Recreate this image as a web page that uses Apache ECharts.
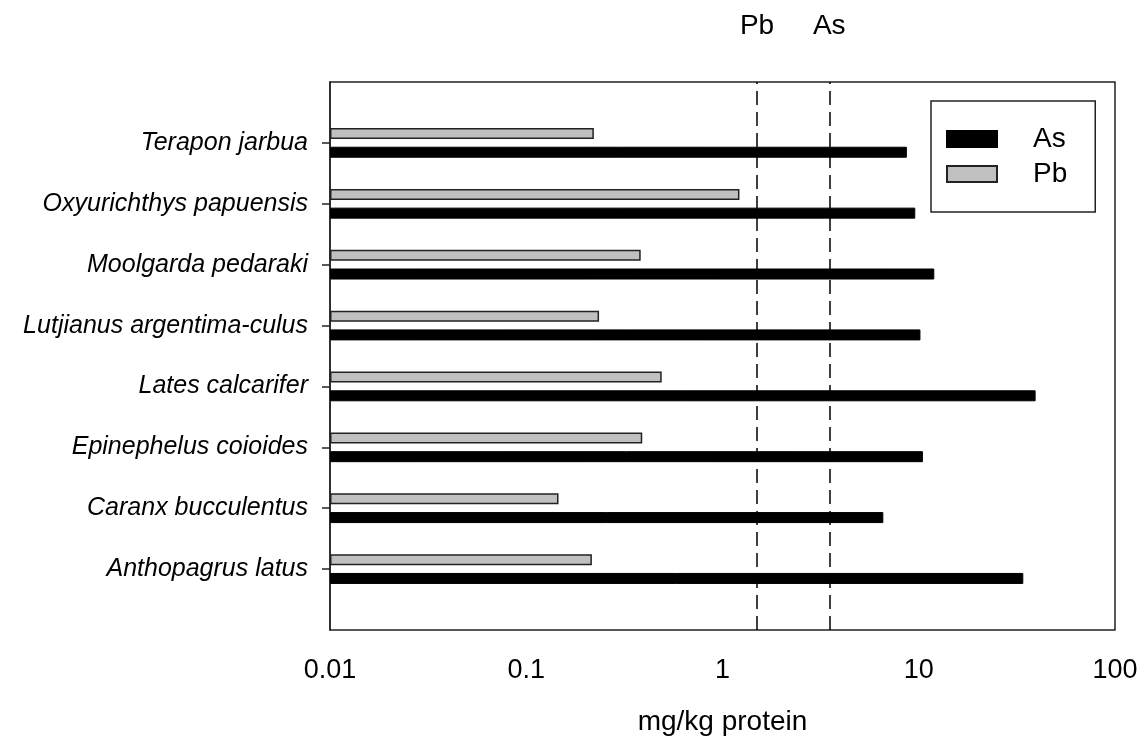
<!DOCTYPE html>
<html>
<head>
<meta charset="utf-8">
<script src="https://cdn.jsdelivr.net/npm/echarts@6/dist/echarts.min.js"></script>
<style>
  html, body { margin: 0; padding: 0; background: #fff; }
  #chart { width: 1146px; height: 740px; }
</style>
</head>
<body>
<div id="chart"></div>
<script>
// species from bottom to top
const species = [
  "Anthopagrus latus",
  "Caranx bucculentus",
  "Epinephelus coioides",
  "Lates calcarifer",
  "Lutjianus argentima-culus",
  "Moolgarda pedaraki",
  "Oxyurichthys papuensis",
  "Terapon jarbua"
];
const asValues = [34.1, 6.6, 10.5, 39.4, 10.2, 12.0, 9.6, 8.7];
const pbValues = [0.216, 0.146, 0.39, 0.49, 0.235, 0.383, 1.22, 0.221];
const xTicks = [0.01, 0.1, 1, 10, 100];
const limits = [{ name: "Pb", value: 1.5 }, { name: "As", value: 3.5 }];

// empty slot below and above so the rows sit one band inside the frame
const yCategories = [" "].concat(species, ["  "]);
const pad = (arr) => ["-"].concat(arr, ["-"]);

const font = "Liberation Sans, Arial, sans-serif";
const chart = echarts.init(document.getElementById("chart"));

chart.setOption({
  animation: false,
  textStyle: { fontFamily: font, color: "#000" },
  grid: {
    left: 330,
    right: 31,
    top: 82,
    bottom: 110,
    outerBoundsMode: "none",
    show: true,
    borderColor: "#222",
    borderWidth: 1.5
  },
  legend: {
    orient: "vertical",
    left: 931,
    top: 101,
    data: ["As", "Pb"],
    icon: "rect",
    itemWidth: 50,
    itemHeight: 16,
    itemGap: 7,
    padding: [24, 28, 24, 15],
    borderColor: "#222",
    borderWidth: 1.5,
    textStyle: {
      fontSize: 28,
      lineHeight: 17,
      color: "#000",
      padding: [4, 0, 0, 31]
    }
  },
  xAxis: {
    type: "log",
    logBase: 10,
    min: 0.01,
    max: 100,
    startValue: 0.01,
    name: "mg/kg protein",
    nameLocation: "middle",
    nameGap: 78,
    nameTextStyle: { fontSize: 28, color: "#000" },
    axisLine: { lineStyle: { color: "#222", width: 1.5 } },
    axisTick: { inside: false, length: 8, lineStyle: { color: "#222", width: 1.5 } },
    minorTick: { show: false },
    splitLine: { show: false },
    axisLabel: {
      fontSize: 27,
      color: "#000",
      margin: 27,
      formatter: (v) => {
        const hit = xTicks.find((t) => Math.abs(t - v) / t < 1e-6);
        return hit !== undefined ? String(hit) : "";
      }
    }
  },
  yAxis: {
    type: "category",
    data: yCategories,
    boundaryGap: false,
    axisLine: { lineStyle: { color: "#222", width: 1.5 } },
    axisTick: {
      inside: false,
      length: 8,
      interval: (i) => i > 0 && i < yCategories.length - 1,
      lineStyle: { color: "#222", width: 1.5 }
    },
    splitLine: { show: false },
    axisLabel: {
      fontSize: 25,
      fontStyle: "italic",
      color: "#000",
      margin: 22,
      interval: 0
    }
  },
  series: [
    {
      name: "Pb",
      type: "bar",
      data: pad(pbValues),
      barWidth: 11,
      barGap: "70%",
      itemStyle: { color: "#c0c0c0", borderColor: "#222", borderWidth: 1.5 },
      markLine: {
        silent: true,
        symbol: "none",
        lineStyle: { color: "#000", type: [14, 7], width: 1.5 },
        label: {
          show: true,
          position: "end",
          distance: 42,
          formatter: "{b}",
          fontSize: 28,
          color: "#000",
          fontFamily: font
        },
        data: limits.map((l) => ({ name: l.name, xAxis: l.value }))
      }
    },
    {
      name: "As",
      type: "bar",
      data: pad(asValues),
      barWidth: 11,
      barGap: "70%",
      itemStyle: { color: "#000", borderColor: "#000", borderWidth: 1 }
    }
  ]
});
</script>
</body>
</html>
